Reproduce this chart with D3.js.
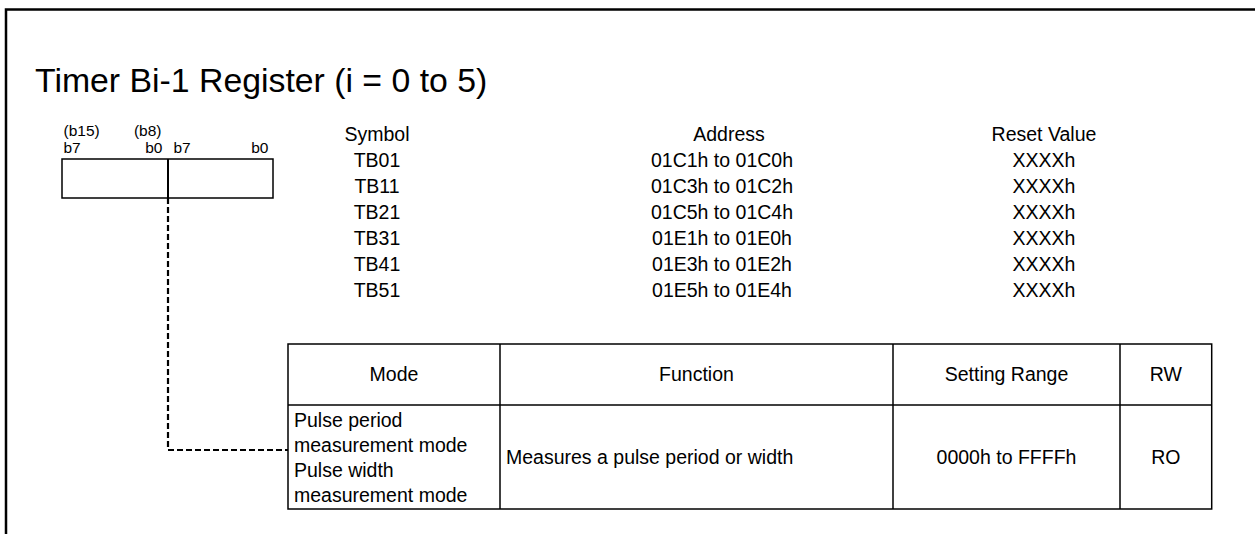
<!DOCTYPE html>
<html>
<head>
<meta charset="utf-8">
<script src="https://cdn.jsdelivr.net/npm/d3@7"></script>
<style>
  html, body { margin: 0; padding: 0; background: #fff; }
  svg { display: block; font-family: "Liberation Sans", Arial, Helvetica, sans-serif; }
  text { fill: #000; }
</style>
</head>
<body>
<svg id="chart" width="1255" height="534"></svg>
<script>
// ---- data ----
const title = "Timer Bi-1 Register (i = 0 to 5)";
const bitUpper = ["(b15)", "(b8)"];
const bitLower = ["b7", "b0", "b7", "b0"];
const listHeaders = ["Symbol", "Address", "Reset Value"];
const symbols = ["TB01", "TB11", "TB21", "TB31", "TB41", "TB51"];
const addresses = ["01C1h to 01C0h", "01C3h to 01C2h", "01C5h to 01C4h",
                   "01E1h to 01E0h", "01E3h to 01E2h", "01E5h to 01E4h"];
const resetValues = ["XXXXh", "XXXXh", "XXXXh", "XXXXh", "XXXXh", "XXXXh"];
const tableHeaders = ["Mode", "Function", "Setting Range", "RW"];
const modeLines = ["Pulse period", "measurement mode", "Pulse width", "measurement mode"];
const functionText = "Measures a pulse period or width";
const settingRange = "0000h to FFFFh";
const rwText = "RO";

// ---- layout ----
const svg = d3.select("#chart");

// outer frame (left and top edges)
svg.append("path")
  .attr("d", "M6,534 V9.5 H1255")
  .attr("fill", "none").attr("stroke", "#000").attr("stroke-width", 2.5);

// title
svg.append("text")
  .attr("x", 35).attr("y", 92)
  .attr("font-size", 33.8)
  .text(title);

// register box
const regX = d3.scaleLinear().domain([0, 2]).range([62, 273]);
const regTop = 159, regBot = 198;
svg.append("rect")
  .attr("x", regX(0)).attr("y", regTop)
  .attr("width", regX(2) - regX(0)).attr("height", regBot - regTop)
  .attr("fill", "none").attr("stroke", "#000").attr("stroke-width", 1.5);
const midX = Math.round(regX(1));
svg.append("line")
  .attr("x1", midX).attr("x2", midX)
  .attr("y1", regTop).attr("y2", regBot)
  .attr("stroke", "#000").attr("stroke-width", 2);

// bit labels
const bitFont = 15.5;
svg.selectAll("text.bu").data(bitUpper).join("text")
  .attr("class", "bu")
  .attr("x", (d, i) => i === 0 ? regX(0) + 1.5 : regX(1) - 6)
  .attr("y", 135.5)
  .attr("text-anchor", (d, i) => i === 0 ? "start" : "end")
  .attr("font-size", bitFont)
  .text(d => d);
svg.selectAll("text.bl").data(bitLower).join("text")
  .attr("class", "bl")
  .attr("x", (d, i) => {
    const cell = Math.floor(i / 2);
    return i % 2 === 0 ? regX(cell) + (cell === 0 ? 1.5 : 6) : regX(cell + 1) - (cell === 0 ? 5 : 4.5);
  })
  .attr("y", 152.5)
  .attr("text-anchor", (d, i) => i % 2 === 0 ? "start" : "end")
  .attr("font-size", bitFont)
  .text(d => d);

// symbol / address / reset list
const listFont = 19.5;
const rowY = d3.scaleLinear().domain([0, 1]).range([141, 167]);
const colHeaderX = [377, 729, 1044];
const colDataX = [377, 722, 1044];
svg.selectAll("text.lh").data(listHeaders).join("text")
  .attr("class", "lh")
  .attr("x", (d, i) => colHeaderX[i]).attr("y", rowY(0))
  .attr("text-anchor", "middle").attr("font-size", listFont)
  .text(d => d);
const listCols = [symbols, addresses, resetValues];
listCols.forEach((col, c) => {
  svg.selectAll("text.lc" + c).data(col).join("text")
    .attr("class", "lc" + c)
    .attr("x", colDataX[c]).attr("y", (d, i) => rowY(i + 1))
    .attr("text-anchor", "middle").attr("font-size", listFont)
    .text(d => d);
});

// table
const colEdges = [288, 500, 893, 1120, 1211.7];
const rowEdges = [344, 405, 509];
const tFont = 19.5;
svg.append("rect")
  .attr("x", colEdges[0]).attr("y", rowEdges[0])
  .attr("width", colEdges[4] - colEdges[0]).attr("height", rowEdges[2] - rowEdges[0])
  .attr("fill", "none").attr("stroke", "#000").attr("stroke-width", 1.5);
svg.selectAll("line.vc").data(colEdges.slice(1, 4)).join("line")
  .attr("class", "vc")
  .attr("x1", d => d).attr("x2", d => d)
  .attr("y1", rowEdges[0]).attr("y2", rowEdges[2])
  .attr("stroke", "#000").attr("stroke-width", 1.5);
svg.append("line")
  .attr("x1", colEdges[0]).attr("x2", colEdges[4])
  .attr("y1", rowEdges[1]).attr("y2", rowEdges[1])
  .attr("stroke", "#000").attr("stroke-width", 1.5);

svg.selectAll("text.th").data(tableHeaders).join("text")
  .attr("class", "th")
  .attr("x", (d, i) => (colEdges[i] + colEdges[i + 1]) / 2)
  .attr("y", 381)
  .attr("text-anchor", "middle").attr("font-size", tFont)
  .text(d => d);

const lineY = d3.scaleLinear().domain([0, 1]).range([426.5, 451.5]);
svg.selectAll("text.ml").data(modeLines).join("text")
  .attr("class", "ml")
  .attr("x", colEdges[0] + 6).attr("y", (d, i) => lineY(i))
  .attr("font-size", tFont)
  .text(d => d);
const dataMid = 464;
svg.append("text")
  .attr("x", colEdges[1] + 6).attr("y", dataMid)
  .attr("font-size", tFont).text(functionText);
svg.append("text")
  .attr("x", (colEdges[2] + colEdges[3]) / 2).attr("y", dataMid)
  .attr("text-anchor", "middle").attr("font-size", tFont).text(settingRange);
svg.append("text")
  .attr("x", (colEdges[3] + colEdges[4]) / 2).attr("y", dataMid)
  .attr("text-anchor", "middle").attr("font-size", tFont).text(rwText);

// dashed leader
svg.append("path")
  .attr("d", `M${midX},${regBot} V450 H${colEdges[0]}`)
  .attr("fill", "none").attr("stroke", "#000").attr("stroke-width", 2.2)
  .attr("stroke-dasharray", "6,3");
</script>
</body>
</html>
